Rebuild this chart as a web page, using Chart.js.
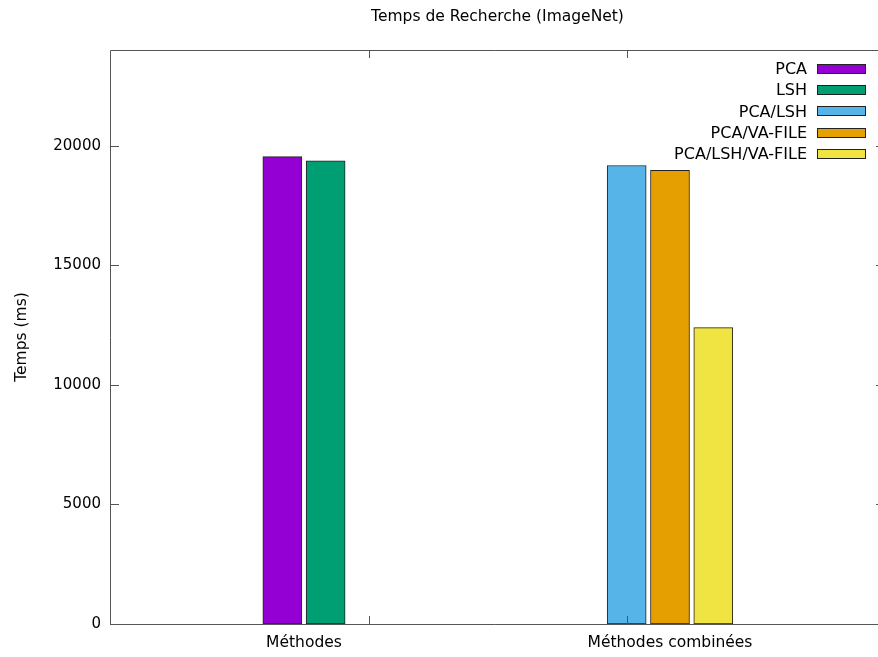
<!DOCTYPE html>
<html>
<head>
<meta charset="utf-8">
<script src="https://cdn.jsdelivr.net/npm/chart.js@4/dist/chart.umd.min.js"></script>
<style>
  html, body { margin: 0; padding: 0; background: #fff; overflow: hidden; }
  canvas { display: block; }
</style>
</head>
<body>
<canvas id="c" width="878" height="657"></canvas>
<script>
// Search time per method group (ms)
const categories = ['Méthodes', 'Méthodes combinées'];
const seriesNames = ['PCA', 'LSH', 'PCA/LSH', 'PCA/VA-FILE', 'PCA/LSH/VA-FILE'];
const pcaTimes = [19540, null];
const lshTimes = [19370, null];
const pcaLshTimes = [null, 19170];
const pcaVaFileTimes = [null, 18970];
const pcaLshVaFileTimes = [null, 12390];
const seriesColors = ['#9400d3', '#009e73', '#56b4e9', '#e69f00', '#f0e442'];
const yTickValues = [0, 5000, 10000, 15000, 20000];
const xTickMarks = [0.178, 0.883];
const chartTitle = 'Temps de Recherche (ImageNet)';

const FONT = 'DejaVu Sans';
const FRAME = '#555555';
// the plot box continues this many pixels past the right edge of the canvas
const HIDDEN_RIGHT = 8;

const seriesValues = [pcaTimes, lshTimes, pcaLshTimes, pcaVaFileTimes, pcaLshVaFileTimes];

const datasets = seriesNames.map((name, i) => ({
  label: name,
  data: categories.map((c, k) => ({ x: k, y: seriesValues[i][k] })),
  backgroundColor: seriesColors[i],
  borderColor: '#222222',
  borderWidth: 1,
  borderSkipped: false,
  skipNull: true,
  barThickness: 43.3,
  maxBarThickness: 39
}));

// Box border with inward tick marks, plus the centred title
const framePlugin = {
  id: 'frame',
  afterDatasetsDraw(chart) {
    const { ctx, chartArea: a, scales } = chart;
    const right = a.right + HIDDEN_RIGHT;
    ctx.save();
    ctx.strokeStyle = FRAME;
    ctx.lineWidth = 1;
    ctx.beginPath();
    yTickValues.forEach(v => {
      const y = Math.round(scales.y.getPixelForValue(v)) + 0.5;
      ctx.moveTo(a.left, y); ctx.lineTo(a.left + 9, y);
      ctx.moveTo(right, y); ctx.lineTo(right - 9, y);
    });
    xTickMarks.forEach(v => {
      const x = Math.round(scales.x.getPixelForValue(v)) + 0.5;
      ctx.moveTo(x, a.bottom); ctx.lineTo(x, a.bottom - 8);
      ctx.moveTo(x, a.top); ctx.lineTo(x, a.top + 8);
    });
    const L = Math.round(a.left) + 0.5, T = Math.round(a.top) + 0.5, B = Math.round(a.bottom) + 0.5;
    ctx.moveTo(right, T); ctx.lineTo(L, T); ctx.lineTo(L, B); ctx.lineTo(right, B);
    ctx.stroke();

    ctx.fillStyle = '#000';
    ctx.font = '15.5px "' + FONT + '"';
    ctx.textAlign = 'center';
    ctx.textBaseline = 'middle';
    ctx.fillText(chartTitle, (a.left + right) / 2, 17);
    ctx.restore();
  }
};

// Key in the top-right corner: right-aligned label followed by a swatch
const keyPlugin = {
  id: 'key',
  afterDraw(chart) {
    const { ctx } = chart;
    const textRight = 807, boxLeft = 817, boxW = 49, boxH = 10, top = 69, step = 21.2;
    ctx.save();
    ctx.font = '16px "' + FONT + '"';
    ctx.textAlign = 'right';
    ctx.textBaseline = 'middle';
    chart.data.datasets.forEach((ds, i) => {
      const cy = top + i * step;
      ctx.fillStyle = '#000';
      ctx.fillText(ds.label, textRight, cy + 1);
      ctx.fillStyle = ds.backgroundColor;
      ctx.fillRect(boxLeft, Math.round(cy - boxH / 2), boxW, boxH);
      ctx.strokeStyle = '#222222';
      ctx.lineWidth = 1;
      ctx.strokeRect(boxLeft + 0.5, Math.round(cy - boxH / 2) + 0.5, boxW - 1, boxH - 1);
    });
    ctx.restore();
  }
};

new Chart(document.getElementById('c'), {
  type: 'bar',
  data: { datasets },
  plugins: [framePlugin, keyPlugin],
  options: {
    responsive: false,
    animation: false,
    devicePixelRatio: 1,
    layout: { padding: { left: 0, right: 1, top: 50, bottom: 0 } },
    plugins: {
      legend: { display: false },
      title: { display: false },
      tooltip: { enabled: false }
    },
    scales: {
      x: {
        type: 'linear',
        min: -0.53,
        max: 1.5656,
        offset: false,
        grid: { display: false, drawTicks: false, offset: false },
        border: { display: false },
        afterBuildTicks: s => { s.ticks = categories.map((c, k) => ({ value: k })); },
        afterFit: s => { s.height = 33; },
        ticks: {
          autoSkip: false,
          maxRotation: 0,
          padding: 10,
          color: '#000',
          font: { family: FONT, size: 15.5 },
          callback: v => categories[v]
        }
      },
      y: {
        type: 'linear',
        min: 0,
        max: 24000,
        grid: { display: false, drawTicks: false },
        border: { display: false },
        afterBuildTicks: s => { s.ticks = yTickValues.map(v => ({ value: v })); },
        afterFit: s => { s.width = 110; },
        ticks: {
          padding: 9,
          color: '#000',
          font: { family: FONT, size: 15 },
          callback: v => String(v)
        },
        title: {
          display: true,
          text: 'Temps (ms)',
          color: '#000',
          font: { family: FONT, size: 15.5 },
          padding: { top: 13, bottom: 0 }
        }
      }
    }
  }
});
</script>
</body>
</html>
